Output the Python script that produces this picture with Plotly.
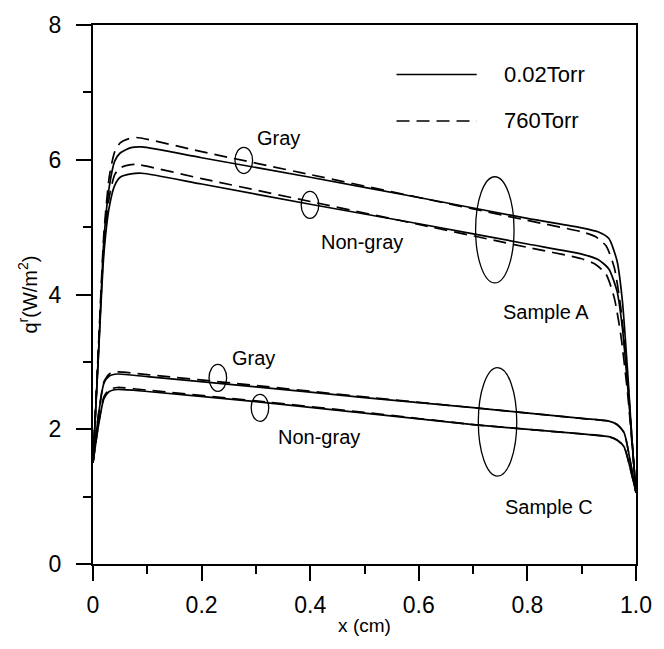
import plotly.graph_objects as go

# Radiative heat flux profiles q^r(x) across the sample thickness
# Sample A
xa_lo = [0, 0.005, 0.01, 0.02, 0.03, 0.04, 0.05, 0.07, 0.09, 0.2, 0.4, 0.6, 0.8, 0.9, 0.93, 0.95, 0.965, 0.975, 0.985, 0.993, 1.0]
xa_hi = [0, 0.005, 0.01, 0.02, 0.03, 0.04, 0.05, 0.065, 0.08, 0.2, 0.4, 0.6, 0.8, 0.9, 0.925, 0.945, 0.96, 0.972, 0.985, 0.993, 1.0]
a_gray_002 = [1.5, 2.3, 3.1, 4.8, 5.6, 5.98, 6.1, 6.18, 6.19, 6.03, 5.74, 5.44, 5.13, 4.99, 4.93, 4.83, 4.5, 3.9, 2.8, 1.8, 1.06]
a_gray_760 = [1.5, 2.35, 3.2, 4.9, 5.75, 6.12, 6.25, 6.31, 6.33, 6.12, 5.78, 5.44, 5.10, 4.93, 4.86, 4.72, 4.4, 3.8, 2.7, 1.8, 1.06]
a_ngray_002 = [1.5, 2.3, 3.1, 4.6, 5.3, 5.62, 5.74, 5.79, 5.80, 5.64, 5.34, 5.05, 4.75, 4.60, 4.52, 4.38, 4.05, 3.5, 2.6, 1.8, 1.06]
a_ngray_760 = [1.5, 2.35, 3.2, 4.7, 5.45, 5.78, 5.88, 5.92, 5.93, 5.72, 5.38, 5.04, 4.70, 4.53, 4.45, 4.30, 3.95, 3.4, 2.5, 1.75, 1.06]

# Sample C
xc = [0, 0.01, 0.02, 0.03, 0.045, 0.1, 0.3, 0.5, 0.7, 0.9, 0.95, 0.965, 0.978, 0.99, 1.0]
c_gray_002 = [1.5, 2.2, 2.68, 2.79, 2.82, 2.78, 2.63, 2.47, 2.32, 2.16, 2.12, 2.07, 1.95, 1.5, 1.06]
c_gray_760 = [1.5, 2.22, 2.70, 2.82, 2.85, 2.81, 2.65, 2.48, 2.32, 2.16, 2.12, 2.07, 1.95, 1.5, 1.06]
c_ngray_002 = [1.5, 2.05, 2.45, 2.56, 2.59, 2.56, 2.41, 2.24, 2.07, 1.93, 1.89, 1.84, 1.74, 1.4, 1.06]
c_ngray_760 = [1.5, 2.07, 2.48, 2.59, 2.62, 2.58, 2.42, 2.25, 2.07, 1.93, 1.89, 1.84, 1.74, 1.4, 1.06]

x_ticks = [0, 0.2, 0.4, 0.6, 0.8, 1.0]
x_tick_text = ["0", "0.2", "0.4", "0.6", "0.8", "1.0"]
y_ticks = [0, 2, 4, 6, 8]

# Marked regions: (x centre, y centre, half width, half height)
ellipses = [
    (0.2777, 5.99, 0.0162, 0.195),
    (0.3996, 5.33, 0.0162, 0.20),
    (0.740, 4.96, 0.0354, 0.788),
    (0.2299, 2.762, 0.0162, 0.20),
    (0.3075, 2.318, 0.0162, 0.20),
    (0.745, 2.11, 0.0354, 0.806),
]
labels = [
    (0.3425, 6.33, "Gray"),
    (0.495, 4.78, "Non-gray"),
    (0.834, 3.74, "Sample A"),
    (0.2947, 3.06, "Gray"),
    (0.416, 1.89, "Non-gray"),
    (0.840, 0.85, "Sample C"),
]

FONT = "Arial, Liberation Sans, sans-serif"
DASH = "13px,7px"
LW = 1.7

fig = go.Figure()
series = [
    (xa_lo, a_gray_002, "solid"),
    (xa_hi, a_gray_760, DASH),
    (xa_lo, a_ngray_002, "solid"),
    (xa_hi, a_ngray_760, DASH),
    (xc, c_gray_002, "solid"),
    (xc, c_gray_760, DASH),
    (xc, c_ngray_002, "solid"),
    (xc, c_ngray_760, DASH),
]
for xs, ys, dash in series:
    fig.add_trace(go.Scatter(
        x=xs, y=ys, mode="lines",
        line=dict(color="black", width=LW, dash=dash, shape="spline", smoothing=0.6),
        showlegend=False, hoverinfo="skip",
    ))

for cx, cy, hw, hh in ellipses:
    fig.add_shape(type="circle", xref="x", yref="y",
                  x0=cx - hw, x1=cx + hw, y0=cy - hh, y1=cy + hh,
                  line=dict(color="black", width=1.3))

for lx, ly, txt in labels:
    fig.add_annotation(x=lx, y=ly, text=txt, showarrow=False,
                       xanchor="center", yanchor="middle",
                       font=dict(family=FONT, size=20, color="black"))

# Pressure key
key = [("solid", "0.02Torr", 0.908), (DASH, "760Torr", 0.822)]
for dash, txt, ky in key:
    fig.add_shape(type="line", xref="paper", yref="paper",
                  x0=0.559, x1=0.7066, y0=ky, y1=ky,
                  line=dict(color="black", width=1.5, dash=dash))
    fig.add_annotation(xref="paper", yref="paper", x=0.7527, y=ky, text=txt,
                       xanchor="left", yanchor="middle", showarrow=False,
                       font=dict(family=FONT, size=22, color="black"))

axis_common = dict(
    showgrid=False, zeroline=False, showline=True, linecolor="black", linewidth=2,
    mirror=True, ticks="outside", ticklen=15, tickwidth=2, tickcolor="black",
    tickfont=dict(family=FONT, size=23, color="black"),
)
fig.update_xaxes(
    range=[0, 1], tickvals=x_ticks, ticktext=x_tick_text,
    minor=dict(ticks="outside", ticklen=8, tickwidth=2, tickcolor="black", dtick=0.1, tick0=0),
    title=dict(text="x (cm)", font=dict(family=FONT, size=19, color="black"), standoff=2),
    ticklabelstandoff=4,
    **axis_common,
)
fig.update_yaxes(
    range=[0, 8], tickvals=y_ticks,
    minor=dict(ticks="outside", ticklen=8, tickwidth=2, tickcolor="black", dtick=1, tick0=0),
    title=dict(text="q<sup>r</sup>(W/m<sup>2</sup>)", font=dict(family=FONT, size=20, color="black"), standoff=6),
    ticklabelstandoff=10,
    **axis_common,
)
fig.update_layout(
    width=664, height=649,
    margin=dict(l=93, r=28, t=18, b=85),
    plot_bgcolor="white", paper_bgcolor="white",
)
fig.write_html("out.html")
